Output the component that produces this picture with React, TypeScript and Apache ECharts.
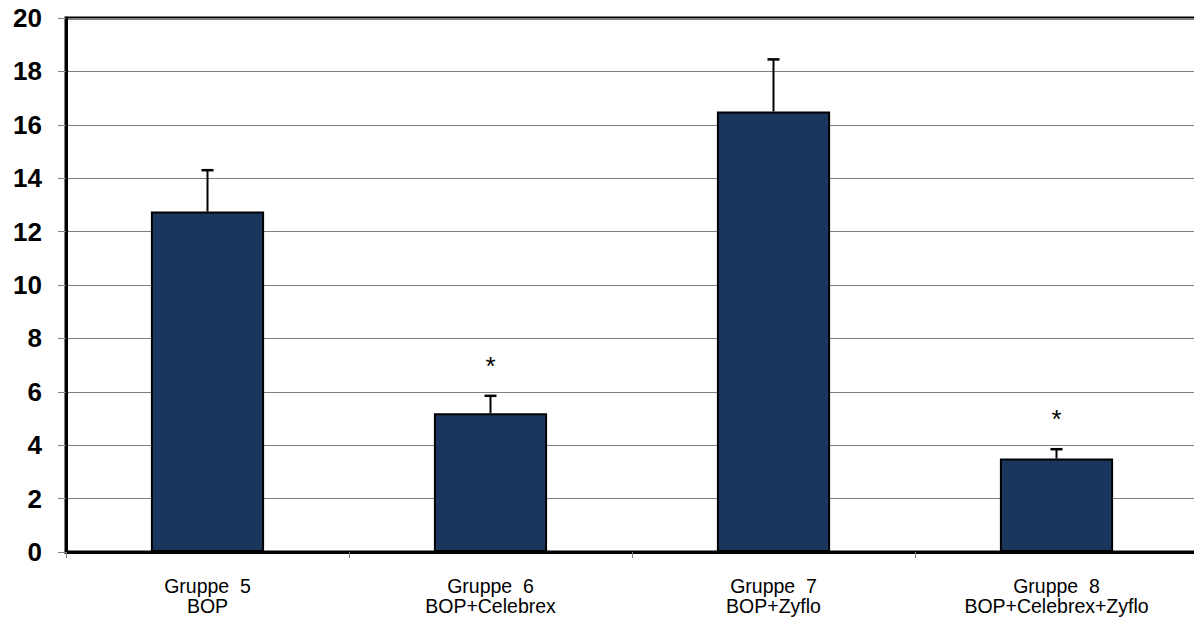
import React, { useEffect, useRef } from "react";
import * as echarts from "echarts";

const groups = ["Gruppe  5", "Gruppe  6", "Gruppe  7", "Gruppe  8"];
const treatments = ["BOP", "BOP+Celebrex", "BOP+Zyflo", "BOP+Celebrex+Zyflo"];
const means = [12.75, 5.2, 16.5, 3.5];
const upperErrors = [14.3, 5.85, 18.45, 3.85];
const significance = ["", "*", "", "*"];
const yTicks = { min: 0, max: 20, interval: 2 };

export default function App() {
  const ref = useRef<HTMLDivElement>(null);
  useEffect(() => {
    if (!ref.current) return;
    const chart = echarts.init(ref.current, undefined, { renderer: "svg" });
    const categories = groups.map((g, i) => g + "\n" + treatments[i]);
    chart.setOption({
      animation: false,
      backgroundColor: "#ffffff",
      grid: {
        left: 66,
        right: 4,
        top: 18,
        bottom: 70,
        show: true,
        borderColor: "#000000",
        borderWidth: 3,
        backgroundColor: "transparent",
      },
      xAxis: {
        type: "category",
        data: categories,
        axisLine: { lineStyle: { color: "#000000", width: 3 } },
        axisTick: { show: true, length: 6, lineStyle: { color: "#808080", width: 1 } },
        axisLabel: {
          color: "#000000",
          fontFamily: "Liberation Sans, Arial, sans-serif",
          fontSize: 19.5,
          lineHeight: 20,
          margin: 24,
        },
        splitLine: { show: false },
      },
      yAxis: {
        type: "value",
        min: yTicks.min,
        max: yTicks.max,
        interval: yTicks.interval,
        axisLine: { show: true, lineStyle: { color: "#000000", width: 3 } },
        axisTick: { show: true, length: 8, lineStyle: { color: "#808080", width: 1 } },
        axisLabel: {
          color: "#000000",
          fontFamily: "Liberation Sans, Arial, sans-serif",
          fontSize: 26,
          fontWeight: "bold",
          margin: 24,
        },
        splitLine: { show: true, lineStyle: { color: "#808080", width: 1 } },
      },
      series: [
        {
          type: "bar",
          data: means,
          barWidth: "40%",
          itemStyle: { color: "#1B365D", borderColor: "#000000", borderWidth: 2 },
          z: 2,
        },
        {
          type: "custom",
          data: means.map((m, i) => [i, m, upperErrors[i]]),
          z: 3,
          renderItem: (params: any, api: any) => {
            const i = api.value(0);
            const base = api.coord([i, api.value(1)]);
            const top = api.coord([i, api.value(2)]);
            const children: any[] = [
              {
                type: "line",
                shape: { x1: base[0], y1: base[1], x2: top[0], y2: top[1] },
                style: { stroke: "#000000", lineWidth: 2 },
              },
              {
                type: "line",
                shape: { x1: top[0] - 6, y1: top[1], x2: top[0] + 6, y2: top[1] },
                style: { stroke: "#000000", lineWidth: 2.5 },
              },
            ];
            if (significance[i]) {
              children.push({
                type: "text",
                x: top[0],
                y: top[1] - 30,
                style: {
                  text: significance[i],
                  fill: "#000000",
                  fontSize: 26,
                  fontFamily: "Liberation Sans, Arial, sans-serif",
                  align: "center",
                  verticalAlign: "middle",
                },
              });
            }
            return { type: "group", children };
          },
        },
      ],
    });
    return () => chart.dispose();
  }, []);
  return (
    <div style={{ position: "fixed", left: 0, top: 0, width: 1194, height: 622, overflow: "hidden", background: "#fff" }}>
      <div ref={ref} style={{ position: "absolute", left: 0, top: 0, width: 1202, height: 622 }} />
    </div>
  );
}
